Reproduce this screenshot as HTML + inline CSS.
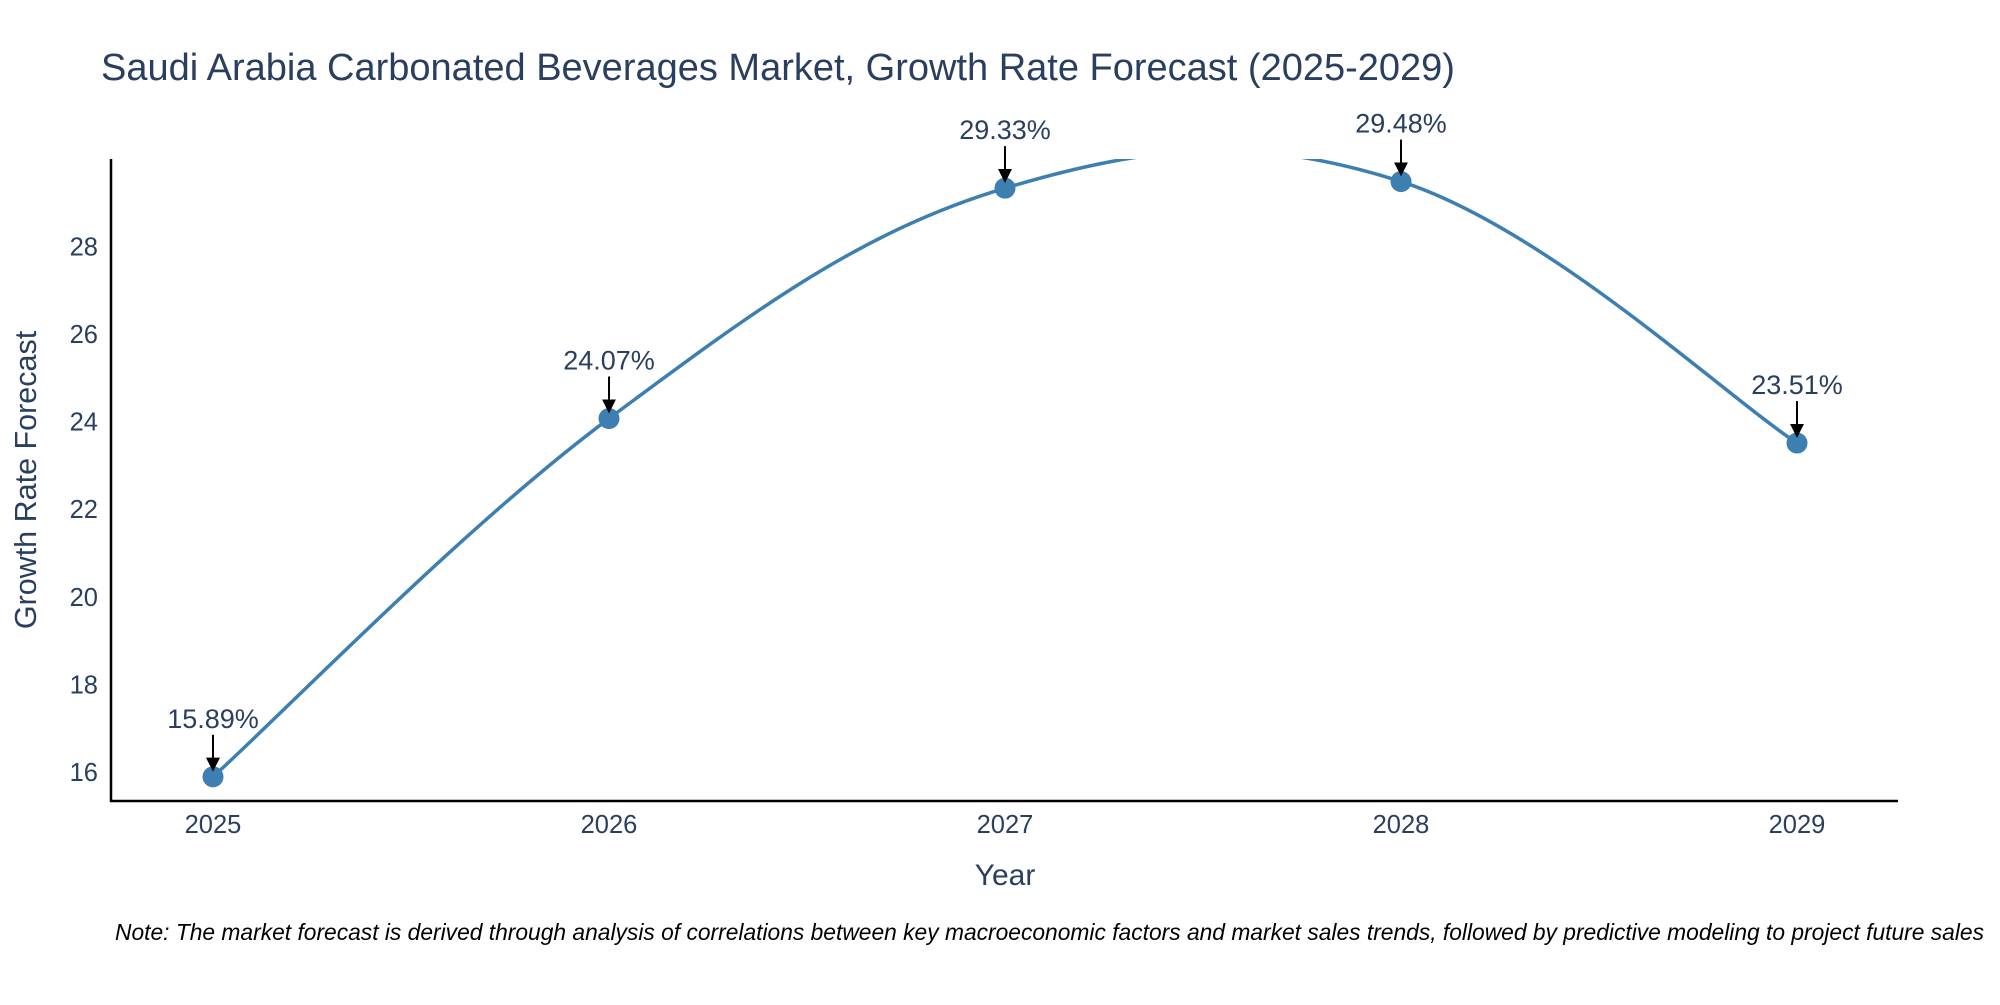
<!DOCTYPE html>
<html><head><meta charset="utf-8"><style>
body{margin:0;background:#fff;}
svg text{font-family:"Liberation Sans",sans-serif;fill:#2a3f5f;}
</style></head><body>
<svg id="chart" width="2000" height="1000" xmlns="http://www.w3.org/2000/svg">
<defs>
<clipPath id="plotclip"><rect x="111" y="159" width="1787" height="642"/></clipPath>
<marker id="arrowhead" viewBox="0 0 10 10" refX="8" refY="5" markerWidth="7" markerHeight="7" orient="auto"><path d="M0,0 L10,5 L0,10 z" fill="#000"/></marker>
</defs>
<text x="101" y="80" font-size="38">Saudi Arabia Carbonated Beverages Market, Growth Rate Forecast (2025-2029)</text>
<g id="yticks"></g>
<g id="xticks"></g>
<line x1="111" y1="159" x2="111" y2="802" stroke="#000" stroke-width="2.5"/>
<line x1="110" y1="801" x2="1898" y2="801" stroke="#000" stroke-width="2.5"/>
<g clip-path="url(#plotclip)"><path id="series-line" fill="none" stroke="#3d7fb0" stroke-width="3.5"/></g>
<g id="marks"></g>
<g id="annos"></g>
<text x="1005" y="885" font-size="30" text-anchor="middle">Year</text>
<text x="0" y="0" font-size="30.5" text-anchor="middle" transform="translate(36,480) rotate(-90)">Growth Rate Forecast</text>
<text x="115" y="940" font-size="22.8" font-style="italic" style="fill:#000">Note: The market forecast is derived through analysis of correlations between key macroeconomic factors and market sales trends, followed by predictive modeling to project future sales</text>
</svg>
<script>
const years = [2025, 2026, 2027, 2028, 2029];
const values = [15.89, 24.07, 29.33, 29.48, 23.51];
const valueLabels = ["15.89%", "24.07%", "29.33%", "29.48%", "23.51%"];
const yTickValues = [16, 18, 20, 22, 24, 26, 28];
const NS = "http://www.w3.org/2000/svg";
const xs = v => 213 + (v - 2025) * 396;
const ys = v => 772 - (v - 16) * 43.8;
const yt = document.getElementById('yticks');
yTickValues.forEach(v => {
  const t = document.createElementNS(NS, 'text');
  
  
  t.setAttribute('x', 98); t.setAttribute('y', ys(v) + 9);
  t.setAttribute('font-size', '25.5'); t.setAttribute('text-anchor', 'end');
  t.textContent = v; yt.appendChild(t);
});
const xt = document.getElementById('xticks');
years.forEach(v => {
  const t = document.createElementNS(NS, 'text');
  
  
  t.setAttribute('x', xs(v)); t.setAttribute('y', 833);
  t.setAttribute('font-size', '25.5'); t.setAttribute('text-anchor', 'middle');
  t.textContent = v; xt.appendChild(t);
});
const pts = years.map((y, i) => [xs(y), ys(values[i])]);
let d = 'M' + pts[0][0] + ',' + pts[0][1];
const k = 0.55;
for (let i = 0; i < pts.length - 1; i++) {
  const p0 = pts[Math.max(0, i - 1)], p1 = pts[i], p2 = pts[i + 1], p3 = pts[Math.min(pts.length - 1, i + 2)];
  const c1 = [p1[0] + (p2[0] - p0[0]) * k / 3, p1[1] + (p2[1] - p0[1]) * k / 3];
  const c2 = [p2[0] - (p3[0] - p1[0]) * k / 3, p2[1] - (p3[1] - p1[1]) * k / 3];
  d += ' C' + c1.join(',') + ' ' + c2.join(',') + ' ' + p2.join(',');
}
document.getElementById('series-line').setAttribute('d', d);
const mk = document.getElementById('marks');
const an = document.getElementById('annos');
pts.forEach((p, i) => {
  const c = document.createElementNS(NS, 'circle');
  
  
  c.setAttribute('cx', p[0]); c.setAttribute('cy', p[1]); c.setAttribute('r', 10.5);
  c.setAttribute('fill', '#3d7fb0'); mk.appendChild(c);
  const l = document.createElementNS(NS, 'line');
  
  
  l.setAttribute('x1', p[0]); l.setAttribute('y1', p[1] - 42);
  l.setAttribute('x2', p[0]); l.setAttribute('y2', p[1] - 8);
  l.setAttribute('stroke', '#000'); l.setAttribute('stroke-width', '2');
  l.setAttribute('marker-end', 'url(#arrowhead)'); an.appendChild(l);
  const t = document.createElementNS(NS, 'text');
  
  
  t.setAttribute('x', p[0]); t.setAttribute('y', p[1] - 49);
  t.setAttribute('font-size', '27'); t.setAttribute('text-anchor', 'middle');
  t.textContent = valueLabels[i]; an.appendChild(t);
});
</script>
</body></html>
